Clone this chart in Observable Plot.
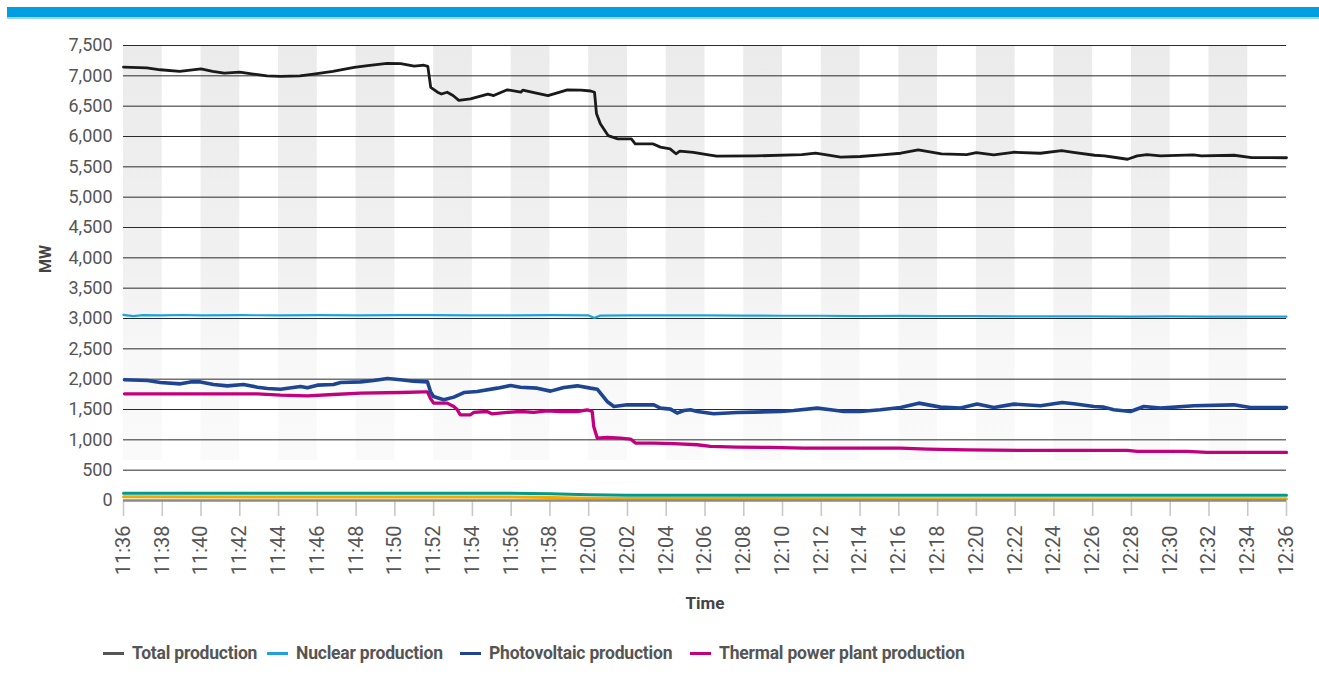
<!DOCTYPE html>
<html>
<head>
<meta charset="utf-8">
<script src="https://cdn.jsdelivr.net/npm/d3@7"></script>
<script src="https://cdn.jsdelivr.net/npm/@observablehq/plot@0.6"></script>
<style>
  html, body { margin: 0; padding: 0; background: #fff; }
  body { width: 1319px; height: 684px; position: relative; overflow: hidden; font-family: Roboto, "Liberation Sans", sans-serif; }
  #topbar { position: absolute; left: 7px; top: 7px; width: 1312px; height: 10px; background: #009FE3; border-bottom: 2px solid #9ad6f2; }
  #chart { position: absolute; left: 0; top: 0; }
  #legend { position: absolute; top: 642px; left: 0; width: 1319px; height: 22px; color: #555; font-size: 17.5px; font-weight: bold; letter-spacing: -0.2px; }
  .item { position: absolute; top: 0; display: flex; align-items: center; height: 22px; white-space: nowrap; }
  .sw { width: 21px; height: 3px; margin-right: 8px; }
</style>
</head>
<body>
<div id="topbar"></div>
<div id="chart"></div>
<div id="legend"></div>
<script>
// ---- data (minutes after 11:36, MW) ----
const totalMin = [0,1.2,1.9,2.9,4.0,4.6,5.2,6.0,6.7,7.4,8.1,9.1,9.8,10.8,11.9,12.6,13.6,14.3,15.0,15.5,15.7,15.85,16.2,16.4,16.7,17.0,17.3,17.9,18.8,19.1,19.8,20.5,20.6,21.3,21.9,22.9,23.6,24.1,24.3,24.4,24.6,25.0,25.5,26.2,26.4,27.3,27.7,28.2,28.5,28.7,29.4,30.1,30.6,32.6,35.0,35.7,36.2,37.0,38.0,39.1,40.1,41.0,42.2,43.5,44.0,44.9,45.9,47.3,48.4,49.0,50.1,50.6,51.1,51.8,52.3,52.8,53.5,55.2,55.6,57.3,58.2,60];
const totalMW  = [7145,7130,7100,7075,7115,7075,7045,7060,7030,7000,6990,7000,7030,7075,7140,7170,7205,7200,7160,7175,7155,6810,6730,6700,6730,6675,6595,6620,6700,6675,6770,6730,6765,6715,6675,6770,6765,6750,6730,6380,6210,6015,5960,5960,5880,5880,5825,5795,5715,5760,5740,5700,5675,5680,5700,5725,5700,5660,5670,5697,5724,5780,5713,5702,5735,5697,5740,5724,5768,5740,5691,5680,5658,5625,5680,5702,5680,5697,5680,5691,5653,5650];

const nuclearMin = [0,0.5,1,2,3,4,6,8,10,12,14,16,18,20,22,24,24.3,24.6,26,28,30,32,34,36,38,40,42,44,46,48,50,52,54,56,58,60];
const nuclearMW  = [3060,3040,3055,3050,3058,3050,3055,3052,3055,3052,3055,3055,3052,3050,3055,3050,3010,3048,3050,3050,3052,3048,3045,3045,3040,3042,3038,3040,3035,3035,3035,3032,3035,3032,3030,3030];

const pvMin = [0.05,1.24,1.9,2.94,3.46,3.97,4.64,5.36,6.19,6.91,7.43,8.1,9.13,9.49,10.0,10.83,11.2,12.23,12.9,13.62,14.29,14.96,15.68,15.84,15.99,16.52,17.04,17.56,18.25,19.28,19.97,20.48,21.34,22.03,22.72,23.41,24.09,24.44,24.95,25.3,25.99,27.36,27.7,28.22,28.56,28.91,29.25,29.6,30.45,31.66,32.52,33.9,34.58,35.79,36.48,37.16,38.02,39.05,40.09,41.03,42.15,43.18,44.04,44.9,45.93,47.31,48.43,49.03,50.06,50.58,51.09,51.95,52.64,53.5,55.22,57.28,58.14,60];
const pvMW  = [1990,1977,1944,1923,1955,1955,1911,1890,1911,1868,1845,1835,1878,1857,1901,1911,1944,1955,1977,2010,1990,1967,1955,1796,1714,1660,1704,1780,1796,1852,1895,1868,1852,1803,1862,1890,1852,1835,1632,1550,1577,1577,1523,1506,1441,1484,1495,1467,1429,1451,1457,1467,1484,1523,1495,1467,1467,1495,1533,1605,1539,1523,1589,1533,1589,1561,1615,1594,1550,1539,1495,1467,1550,1523,1561,1577,1533,1533];

const thermalMin = [0.05,6.91,8.1,9.49,10.83,12.23,14.29,15.5,15.68,15.84,16.0,16.7,17.04,17.2,17.37,17.9,18.06,18.75,19.0,19.8,20.48,21.16,21.86,22.55,23.41,23.93,24.18,24.26,24.44,24.95,25.64,26.16,26.41,27.36,28.39,29.6,30.28,31.66,33.38,35.1,38.02,40.09,41.47,43.53,46.27,48.33,51.78,52.3,54.87,55.9,60];
const thermalMW  = [1758,1758,1737,1725,1747,1770,1780,1791,1790,1680,1605,1605,1550,1506,1413,1413,1451,1467,1429,1451,1467,1451,1478,1467,1467,1495,1467,1220,1029,1039,1029,1013,947,947,936,919,892,881,875,864,864,864,848,836,826,826,826,809,809,793,793];

const otherAMin = [0,20,22,24,26,30,40,50,60];
const otherAMW  = [118,118,110,95,88,86,85,85,85];
const otherBMin = [0,20,22,24,26,40,60];
const otherBMW  = [60,58,50,38,32,30,30];

const yTicks = [0,500,1000,1500,2000,2500,3000,3500,4000,4500,5000,5500,6000,6500,7000,7500];
const xTickMin = d3.range(0, 61, 2);
const bandStartMin = d3.range(0, 60, 4);   // shaded 2-minute bands
const bandFloorMW = 660;

const seriesNames = ["Total production","Nuclear production","Photovoltaic production","Thermal power plant production"];
const seriesColors = ["#1a1a1a","#1ea2dc","#1d4594","#c2007e"];
const legendColors = ["#555555","#1ea2dc","#1d4594","#c2007e"];
const legendLeft = [103, 267, 460, 690];

// ---- build ----
const base = new Date(2024, 0, 1, 11, 36, 0);
const T = m => new Date(base.getTime() + m * 60000);
const ser = (mins, vals) => mins.map((m, i) => ({t: T(m), v: vals[i]}));
const fmt = d3.timeFormat("%H:%M");
const bands = bandStartMin.map(m => ({a: T(m), b: T(m + 2)}));

const defs = () => {
  const d = d3.create("svg:defs");
  const g = d.append("linearGradient").attr("id", "bandgrad").attr("x1", 0).attr("y1", 0).attr("x2", 0).attr("y2", 1);
  g.append("stop").attr("offset", "0").attr("stop-color", "#ebebeb");
  g.append("stop").attr("offset", "0.55").attr("stop-color", "#f1f1f1");
  g.append("stop").attr("offset", "0.75").attr("stop-color", "#f8f8f8");
  g.append("stop").attr("offset", "1").attr("stop-color", "#fafafa");
  return d.node();
};

const chart = Plot.plot({
  width: 1319, height: 625,
  marginTop: 45, marginLeft: 123, marginRight: 33, marginBottom: 125,
  style: {fontFamily: "Roboto, 'Liberation Sans', sans-serif", background: "transparent", overflow: "visible"},
  x: {type: "time", domain: [T(0), T(60)]},
  y: {domain: [0, 7500]},
  marks: [
    defs,
    Plot.rect(bands, {x1: "a", x2: "b", y1: bandFloorMW, y2: 7500, fill: "url(#bandgrad)"}),
    Plot.ruleY(yTicks.filter(d => d > 0), {stroke: "#2a2a2a", strokeWidth: 1}),
    Plot.axisX({ticks: xTickMin.map(T), tickFormat: fmt, tickRotate: -90, tickSize: 16, tickPadding: 9,
                stroke: "#c8c8c8", strokeWidth: 1.6, fill: "#555", fontSize: 20, label: null}),
    Plot.axisY({ticks: yTicks, tickFormat: d3.format(","), tickSize: 0, tickPadding: 11, fill: "#555", fontSize: 18, label: null}),
    Plot.line(ser(otherAMin, otherAMW), {x: "t", y: "v", stroke: "#00998a", strokeWidth: 3}),
    Plot.line(ser(otherBMin, otherBMW), {x: "t", y: "v", stroke: "#f5a800", strokeWidth: 3}),
    Plot.ruleY([0], {stroke: "#8a8a8a", strokeWidth: 2.5}),
    Plot.line(ser(thermalMin, thermalMW), {x: "t", y: "v", stroke: seriesColors[3], strokeWidth: 3.3}),
    Plot.line(ser(pvMin, pvMW), {x: "t", y: "v", stroke: seriesColors[2], strokeWidth: 3.6}),
    Plot.line(ser(nuclearMin, nuclearMW), {x: "t", y: "v", stroke: seriesColors[1], strokeWidth: 2.2}),
    Plot.line(ser(totalMin, totalMW), {x: "t", y: "v", stroke: seriesColors[0], strokeWidth: 2.8}),
    Plot.text(["Time"], {frameAnchor: "bottom", dy: 108, fill: "#444", fontSize: 17, fontWeight: "bold"}),
    Plot.text(["MW"], {frameAnchor: "left", dx: -78, rotate: -90, fill: "#444", fontSize: 16, fontWeight: "bold"})
  ]
});
document.getElementById("chart").appendChild(chart);

const lg = d3.select("#legend");
seriesNames.forEach((n, i) => {
  const it = lg.append("div").attr("class", "item").style("left", legendLeft[i] + "px");
  it.append("div").attr("class", "sw").style("background", legendColors[i]);
  it.append("span").text(n);
});
</script>
</body>
</html>
